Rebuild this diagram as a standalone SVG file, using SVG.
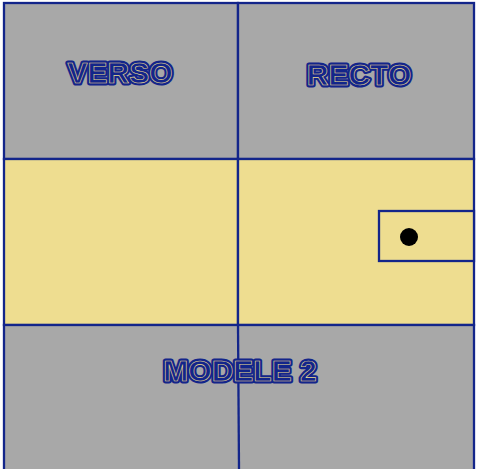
<svg xmlns="http://www.w3.org/2000/svg" width="478" height="469" viewBox="0 0 478 469">
<style>
.cell{stroke:#13258a;stroke-width:2.3}
.g{fill:#a8a8a8}
.y{fill:#eedd90}
.t{font-family:"Liberation Sans",Arial,sans-serif;font-weight:bold;font-size:30px;text-anchor:middle}
.o{fill:#13258a;stroke:#13258a;stroke-width:5;stroke-linejoin:round}
.i{fill:#13258a;stroke:#eedd90;stroke-width:0.6}
</style>
<rect width="478" height="469" fill="#ffffff"/>
<g id="verso"><rect class="cell g" x="4" y="3" width="234" height="156"/>
<text class="t o" x="120" y="83">VERSO</text><text class="t i" x="120" y="83">VERSO</text></g>
<g id="recto"><rect class="cell g" x="238" y="3" width="236" height="156"/>
<text class="t o" x="359" y="85">RECTO</text><text class="t i" x="359" y="85">RECTO</text></g>
<g id="band-left"><rect class="cell y" x="4" y="159" width="234" height="166"/></g>
<g id="band-right"><rect class="cell y" x="238" y="159" width="236" height="166"/></g>
<g id="slot"><rect class="cell y" x="379" y="211" width="95" height="50"/><circle cx="409" cy="237" r="9" fill="#000"/></g>
<g id="bottom"><rect class="cell g" x="4" y="325" width="470" height="150"/>
<line class="cell" x1="238" y1="325" x2="239" y2="469"/>
<text class="t o" x="240" y="381">MODELE 2</text><text class="t i" x="240" y="381">MODELE 2</text></g>
<g id="connectors"/>
</svg>
